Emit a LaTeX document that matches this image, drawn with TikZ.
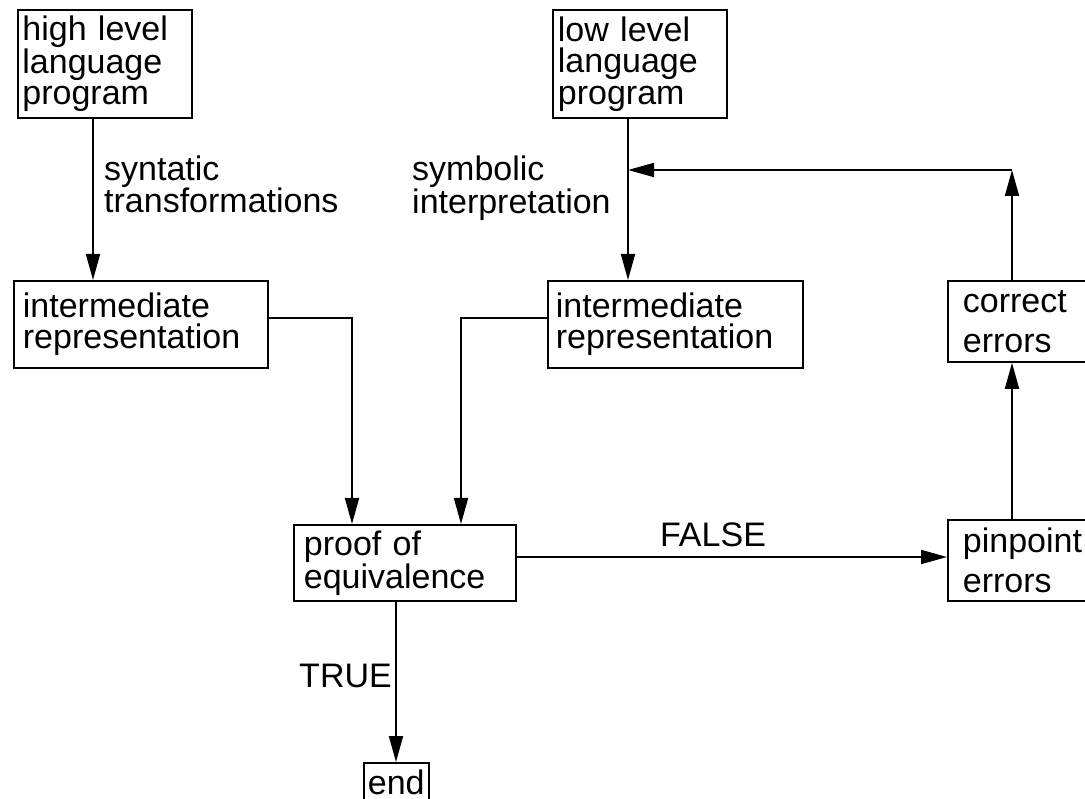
\documentclass[tikz,border=0pt]{standalone}
\usepackage{fontspec}
\setmainfont{Liberation Sans}
\usetikzlibrary{arrows.meta}

\tikzset{
	block/.style={draw, line width=1.8pt, align=left, anchor=north west, inner ysep=0pt, font=\fontsize{34}{31.5}\selectfont},
	wide/.style={block, font=\fontsize{34}{40}\selectfont},
	tag/.style={inner sep=0pt, align=left, font=\fontsize{34}{31}\selectfont},
	flow/.style={->, line width=1.8pt},
}

\begin{document}
\begin{tikzpicture}[x=1pt, y=-1pt, >={Triangle[length=26pt, width=14pt]}]
		\useasboundingbox (0,0) rectangle (1085,799);
		\clip (0,0) rectangle (1085,799);
		
		% boxes
		\node[block, inner xsep=4.5pt, text width=165pt, minimum height=108pt] (high) at (17,9) {high level\\language\\program};
		\node[block, inner xsep=5pt, text width=164pt, minimum height=108pt] (low) at (552,9) {low level\\language\\program};
		\node[block, inner xsep=9pt, text width=236pt, minimum height=87pt] (inter1) at (13,280) {intermediate\\representation};
		\node[block, inner xsep=8pt, text width=239pt, minimum height=87pt] (inter2) at (547,280) {intermediate\\representation};
		\node[block, inner xsep=10pt, text width=202pt, minimum height=76pt] (proof) at (293,524) {proof of\\equivalence};
		\node[wide, inner xsep=15pt, text width=130pt, minimum height=81pt] (correct) at (947,280) {correct\\errors};
		\node[wide, inner xsep=15pt, text width=130pt, minimum height=81pt] (pinpoint) at (947,519) {pinpoint\\errors};
		\node[block, inner xsep=4pt, text width=57pt, minimum height=39pt] (end) at (363,762) {end};
		
		% where the lines run
		\coordinate (colA) at (93,0);
		\coordinate (colB) at (628,0);
		\coordinate (colC) at (352,0);
		\coordinate (colD) at (461,0);
		\coordinate (colE) at (396,0);
		\coordinate (colF) at (1012,0);
		\coordinate (rowA) at (0,318);
		\coordinate (rowB) at (0,557);
		\coordinate (corner) at (1012,170);
		
		\draw[flow] (high.south -| colA) -- (inter1.north -| colA);
		\draw[flow] (low.south -| colB) -- (inter2.north -| colB);
		\draw[flow] (inter1.east |- rowA) -| (proof.north -| colC);
		\draw[flow] (inter2.west |- rowA) -| (proof.north -| colD);
		\draw[flow] (proof.east |- rowB) -- (pinpoint.west |- rowB);
		\draw[flow] (proof.south -| colE) -- (end.north -| colE);
		\draw[flow] (pinpoint.north -| colF) -- (correct.south -| colF);
		\draw[flow] (correct.north -| colF) -- (corner);
		\draw[flow] (corner) -- (corner -| colB);
		
		% labels
		\node[tag, anchor=base west] (syn) at (104,213) {syntatic\\transformations};
		\node[tag, anchor=base west] (sym) at (412,213.5) {symbolic\\interpretation};
		\node[tag, anchor=base] (false) at (713,546) {FALSE};
		\node[tag, anchor=base east] (true) at (392,687) {TRUE};
	\end{tikzpicture}
\end{document}
